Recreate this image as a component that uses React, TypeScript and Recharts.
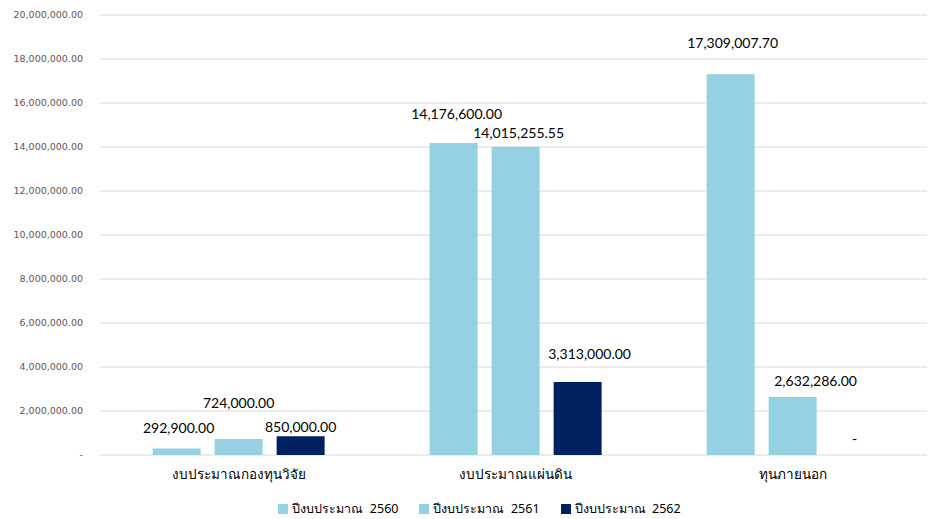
import React from 'react'
import { BarChart, Bar, Cell, XAxis, YAxis, CartesianGrid, Legend } from 'recharts';

const categories = ['งบประมาณกองทุนวิจัย', 'งบประมาณแผ่นดิน', 'ทุนภายนอก'];
const budget2560 = [292900, 14176600, 17309007.7];
const budget2561 = [724000, 14015255.55, 2632286];
const budget2562 = [850000, 3313000, 0];
const yTicks = [0, 2000000, 4000000, 6000000, 8000000, 10000000, 12000000, 14000000, 16000000, 18000000, 20000000];

const series = [
  { key: 'y2560', name: 'ปีงบประมาณ\u00A0\u00A02560', color: '#96D1E3', values: budget2560 },
  { key: 'y2561', name: 'ปีงบประมาณ\u00A0\u00A02561', color: '#96D1E3', values: budget2561 },
  { key: 'y2562', name: 'ปีงบประมาณ\u00A0\u00A02562', color: '#002060', values: budget2562 },
];

const data = categories.map((name, i) => ({
  name,
  y2560: budget2560[i],
  y2561: budget2561[i],
  y2562: budget2562[i],
}));

// label nudges (dx, dy) per bar, the original labels were moved around by hand
const nudge: Record<string, [number, number][]> = {
  y2560: [[2, 0], [3, -8], [2, -10]],
  y2561: [[0, -15], [3, 7], [23, 5]],
  y2562: [[0, 12], [12, -7], [0, 0]],
};

const fmt = (v: number) =>
  v === 0 ? '-' : v.toLocaleString('en-US', { minimumFractionDigits: 2, maximumFractionDigits: 2 });

const makeLabel = (key: string) => (props: any) => {
  const { x, y, width, value, index } = props;
  const [dx, dy] = nudge[key][index] || [0, 0];
  const v = Number(value) || 0;
  return (
    <text
      key={key + index}
      x={Number(x) + Number(width) / 2 + dx}
      y={v === 0 ? Number(y) - 10 : Number(y) - 16 + dy}
      textAnchor="middle"
      fontSize={14}
      fontFamily="Lato, 'Noto Sans', sans-serif"
      fill="#000"
    >
      {fmt(v)}
    </text>
  );
};

const renderLegend = () => (
  <div style={{ display: 'flex', justifyContent: 'center', gap: 21, paddingLeft: 20, fontSize: 12.5, color: '#000', fontFamily: "Tahoma, 'Noto Sans', sans-serif" }}>
    {series.map((s) => (
      <div key={s.key} style={{ display: 'flex', alignItems: 'center' }}>
        <span style={{ width: 10, height: 10, background: s.color, marginRight: 4, display: 'inline-block' }} />
        <span style={{ whiteSpace: 'pre' }}>{s.name}</span>
      </div>
    ))}
  </div>
);

const App = () => {
  return (
    <div style={{ width: 927, height: 511 }}>
      <BarChart
        width={927}
        height={511}
        data={data}
        margin={{ top: 7, right: 4, left: 0, bottom: 0 }}
        barGap={14}
        barCategoryGap="19%"
      >
        <CartesianGrid vertical={false} stroke="#d9d9d9" />
        <XAxis
          dataKey="name"
          axisLine={false}
          tickLine={false}
          tickSize={0}
          tickMargin={14}
          height={44}
          tick={{ fontSize: 13.5, fill: '#000', fontFamily: "Tahoma, 'Noto Sans', sans-serif" }}
        />
        <YAxis
          width={92}
          domain={[0, 20000000]}
          ticks={yTicks}
          axisLine={false}
          tickLine={false}
          tickSize={0}
          tickMargin={17}
          tickFormatter={(v: number) => fmt(v)}
          tick={{ fontSize: 9.5, fill: '#595959', fontFamily: "Tahoma, 'DejaVu Sans', sans-serif" }}
        />
        <Legend verticalAlign="bottom" height={20} content={renderLegend} />
        {series.map((s) => (
          <Bar
            key={s.key}
            dataKey={s.key}
            name={s.name}
            fill={s.color}
            minPointSize={1}
            isAnimationActive={false}
            label={makeLabel(s.key)}
          >
            {s.values.map((v, i) => (
              <Cell key={i} fill={v === 0 ? 'transparent' : s.color} />
            ))}
          </Bar>
        ))}
      </BarChart>
    </div>
  )
}

export default App;
